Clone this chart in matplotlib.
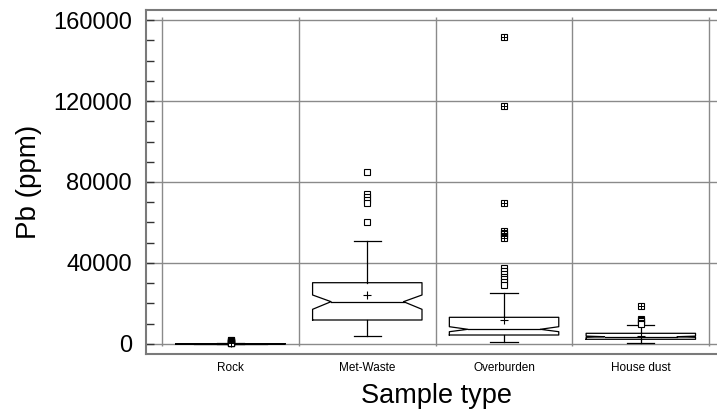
import numpy as np
import matplotlib.pyplot as plt

plt.rcParams['font.family'] = ['Liberation Sans', 'DejaVu Sans']

categories = ['Rock', 'Met-Waste', 'Overburden', 'House dust']

# box statistics (ppm)
q1 = [20, 11850, 4440, 2320]
med = [50, 20900, 7260, 3600]
q3 = [120, 30270, 13180, 5280]
mean = [300, 24200, 11850, 3950]
notch_lo = [40, 17130, 6070, 3300]
notch_hi = [60, 24200, 8540, 3900]
whis_lo = [0, 4100, 1150, 640]
whis_hi = [250, 51000, 25300, 9380]

# outliers: plain squares, and far ones (square with plus)
near_out = [
    [1500, 1200, 1000, 800, 650, 500, 400, 350],
    [85100, 74000, 72600, 71100, 69800, 60400],
    [37300, 36000, 34700, 33300, 32000, 30600, 29200],
    [12400, 11800, 11200, 10600, 10000],
]
far_out = [
    [2100, 1900, 1700, 1300, 900, 600],
    [],
    [151700, 117500, 69500, 55900, 55000, 54100, 53200, 52200],
    [18760],
]

yticks = [0, 40000, 80000, 120000, 160000]

fig = plt.figure(figsize=(7.17, 4.12), dpi=100)
ax = fig.add_axes([146 / 717, 1 - 354 / 412, 1 - 146 / 717, 344 / 412])

pos = np.arange(len(categories))
w = 0.8
nw = 0.265
cw = 0.1

ax.set_xlim(-0.618, 3.557)
ax.set_ylim(-4940, 164940)

# grid
for y in yticks:
    ax.axhline(y, color='#8a8a8a', lw=1, zorder=0)
bounds = np.arange(len(categories) + 1) - 0.5
ax.vlines(bounds, -1000, 161500, color='#8a8a8a', lw=1, zorder=0)

for i, p in enumerate(pos):
    L, R = p - w / 2, p + w / 2
    nL, nR = p - nw, p + nw
    bx = [L, R, R, nR, R, R, L, L, nL, L, L]
    by = [q1[i], q1[i], notch_lo[i], med[i], notch_hi[i], q3[i], q3[i],
          notch_hi[i], med[i], notch_lo[i], q1[i]]
    ax.plot(bx, by, color='black', lw=0.9, zorder=3)
    ax.plot([nL, nR], [med[i], med[i]], color='black', lw=0.9, zorder=3)
    ax.plot([p, p], [q3[i], whis_hi[i]], color='black', lw=0.9, zorder=3)
    ax.plot([p, p], [q1[i], whis_lo[i]], color='black', lw=0.9, zorder=3)
    ax.plot([p - cw, p + cw], [whis_hi[i], whis_hi[i]], color='black', lw=0.9, zorder=3)
    ax.plot([p - cw, p + cw], [whis_lo[i], whis_lo[i]], color='black', lw=0.9, zorder=3)
    ax.plot(p, mean[i], marker='+', color='black', ms=6, mew=0.8, zorder=4)
    pts = near_out[i] + far_out[i]
    ax.plot([p] * len(pts), pts, ls='none', marker='s', ms=5, mfc='white',
            mec='black', mew=0.8, zorder=4)
    if far_out[i]:
        ax.plot([p] * len(far_out[i]), far_out[i], ls='none', marker='+', ms=5,
                color='black', mew=0.7, zorder=5)

ax.set_xticks(pos)
ax.set_xticklabels(categories, fontsize=8.5)
ax.tick_params(axis='x', length=0, pad=6)
ax.set_yticks(yticks)
ax.set_yticks(np.arange(0, 160001, 10000), minor=True)
ax.tick_params(axis='y', which='both', direction='in', length=6, width=1,
               color='#333333', labelsize=17, pad=10)

for s in ['left', 'top', 'bottom']:
    ax.spines[s].set_color('#7a7a7a')
    ax.spines[s].set_linewidth(1.5)
ax.spines['right'].set_visible(False)

ax.set_xlabel('Sample type', fontsize=19.5)
ax.xaxis.set_label_coords(0.509, -0.084)
ax.set_ylabel('Pb (ppm)', fontsize=20)
ax.yaxis.set_label_coords(-0.182, 0.5)

fig.savefig('out.png', dpi=100)
